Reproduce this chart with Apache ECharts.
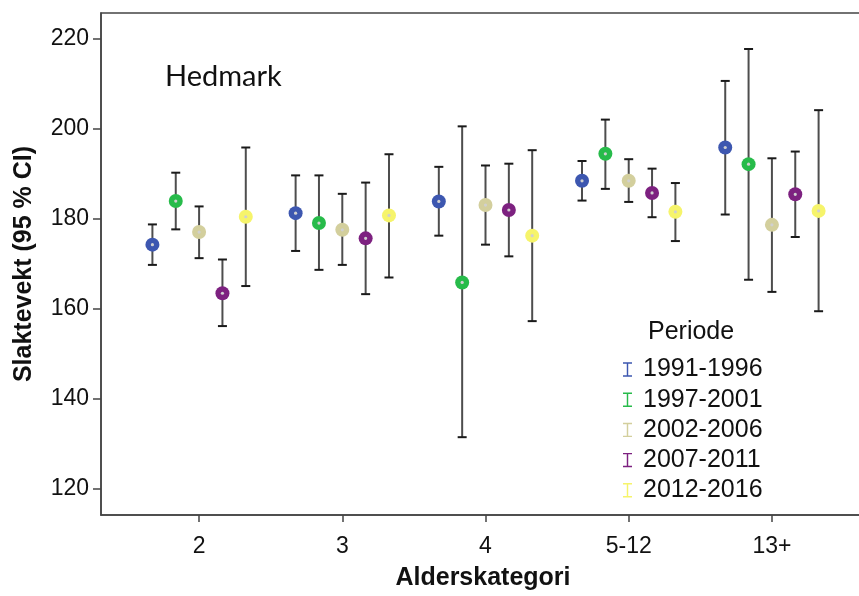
<!DOCTYPE html>
<html><head><meta charset="utf-8">
<script src="https://cdn.jsdelivr.net/npm/echarts@6/dist/echarts.min.js"></script>
<style>html,body{margin:0;padding:0;background:#fff;overflow:hidden;height:596px}#wrap{width:859px;height:596px;overflow:hidden;position:relative}#c{position:absolute;left:0;top:0;width:876px;height:596px}</style>
</head><body><div id="wrap"><div id="c"></div></div><script>
const categories = ['2', '3', '4', '5-12', '13+'];
const periods = ['1991-1996', '1997-2001', '2002-2006', '2007-2011', '2012-2016'];
const colors = ['#3d57b0', '#27bb4a', '#d3cf9d', '#7d2180', '#f6f46b'];
const yTicks = [120, 140, 160, 180, 200, 220];

const mean1991 = [174.3, 181.3, 183.9, 188.5, 195.9];
const low1991  = [169.8, 172.9, 176.3, 184.1, 181.0];
const high1991 = [178.8, 189.7, 191.6, 192.9, 210.7];

const mean1997 = [184.0, 179.1, 165.9, 194.5, 192.2];
const low1997  = [177.7, 168.7, 131.5, 186.7, 166.5];
const high1997 = [190.3, 189.7, 200.6, 202.1, 217.8];

const mean2002 = [177.1, 177.6, 183.1, 188.5, 178.7];
const low2002  = [171.3, 169.8, 174.3, 183.8, 163.8];
const high2002 = [182.8, 185.6, 191.9, 193.3, 193.5];

const mean2007 = [163.5, 175.7, 182.0, 185.8, 185.5];
const low2007  = [156.2, 163.3, 171.7, 180.4, 176.0];
const high2007 = [171.0, 188.1, 192.3, 191.2, 195.0];

const mean2012 = [180.5, 180.8, 176.3, 181.6, 181.8];
const low2012  = [165.1, 167.0, 157.3, 175.1, 159.5];
const high2012 = [195.9, 194.4, 195.3, 188.0, 204.2];

const means = [mean1991, mean1997, mean2002, mean2007, mean2012];
const lows = [low1991, low1997, low2002, low2007, low2012];
const highs = [high1991, high1997, high2002, high2007, high2012];

const DODGE = 0.163;

function makeRender(si) {
  return function (params, api) {
    const x = api.value(0) + (si - 2) * DODGE;
    const pm = api.coord([x, api.value(1)]);
    const pl = api.coord([x, api.value(2)]);
    const ph = api.coord([x, api.value(3)]);
    const cap = 4.5;
    return {
      type: 'group',
      children: [
        { type: 'line', shape: { x1: pl[0], y1: pl[1], x2: ph[0], y2: ph[1] }, style: { stroke: '#4d4d4d', lineWidth: 2 } },
        { type: 'line', shape: { x1: pl[0] - cap, y1: pl[1], x2: pl[0] + cap, y2: pl[1] }, style: { stroke: '#1a1a1a', lineWidth: 2 } },
        { type: 'line', shape: { x1: ph[0] - cap, y1: ph[1], x2: ph[0] + cap, y2: ph[1] }, style: { stroke: '#1a1a1a', lineWidth: 2 } },
        { type: 'circle', shape: { cx: pm[0], cy: pm[1], r: 7 }, style: { fill: colors[si] } },
        { type: 'circle', shape: { cx: pm[0], cy: pm[1], r: 1.6 }, style: { fill: '#d0d0d0' } }
      ]
    };
  };
}

const series = periods.map((p, si) => ({
  name: p,
  type: 'custom',
  color: colors[si],
  itemStyle: { color: colors[si] },
  renderItem: makeRender(si),
  encode: { x: 0, y: [1, 2, 3] },
  data: categories.map((c, i) => [i, means[si][i], lows[si][i], highs[si][i]])
}));

const chart = echarts.init(document.getElementById('c'), null, { renderer: 'canvas', width: 876, height: 596 });
chart.setOption({
  animation: false,
  backgroundColor: '#fff',
  grid: { left: 101, top: 13, right: 11, bottom: 75, show: true, borderColor: '#444', borderWidth: 1.5, backgroundColor: 'transparent' },
  xAxis: {
    type: 'value', min: -0.685, max: 4.65,
    name: 'Alderskategori', nameLocation: 'middle', nameGap: 51,
    nameTextStyle: { fontFamily: 'Liberation Sans', fontWeight: 'bold', fontSize: 25, color: '#111' },
    splitLine: { show: false },
    axisLine: { show: true, onZero: false, lineStyle: { color: '#444', width: 1.5 } },
    axisTick: { show: true, inside: false, length: 7, customValues: [0, 1, 2, 3, 4], lineStyle: { color: '#444', width: 1.5 } },
    axisLabel: { customValues: [0, 1, 2, 3, 4], formatter: v => categories[Math.round(v)], margin: 20,
      fontFamily: 'Liberation Sans', fontSize: 23, color: '#111' }
  },
  yAxis: {
    type: 'value', min: 114.2, max: 225.8,
    name: 'Slaktevekt (95 % CI)', nameLocation: 'middle', nameGap: 64,
    nameTextStyle: { fontFamily: 'Liberation Sans', fontWeight: 'bold', fontSize: 25, color: '#111' },
    splitLine: { show: false },
    axisLine: { show: true, onZero: false, lineStyle: { color: '#444', width: 1.5 } },
    axisTick: { show: true, inside: false, length: 8, customValues: yTicks, lineStyle: { color: '#444', width: 1.5 } },
    axisLabel: { customValues: yTicks, margin: 12, fontFamily: 'Liberation Sans', fontSize: 23, color: '#111' }
  },
  legend: {
    orient: 'vertical', left: 618, top: 352,
    data: periods,
    icon: 'path://M0,0 H10 V1.6 H5.8 V14.4 H10 V16 H0 V14.4 H4.2 V1.6 H0 Z',
    itemWidth: 9, itemHeight: 17, itemGap: 5.2,
    textStyle: { fontFamily: 'Liberation Sans', fontSize: 25, color: '#111', padding: [0, 0, 0, 6] }
  },
  graphic: [
    { type: 'text', left: 165, top: 62, style: { text: 'Hedmark', font: '29px Lato', fill: '#111' } },
    { type: 'text', left: 648, top: 320, style: { text: 'Periode', font: '25px "Liberation Sans"', fill: '#111' } }
  ],
  series: series
});
</script></body></html>
